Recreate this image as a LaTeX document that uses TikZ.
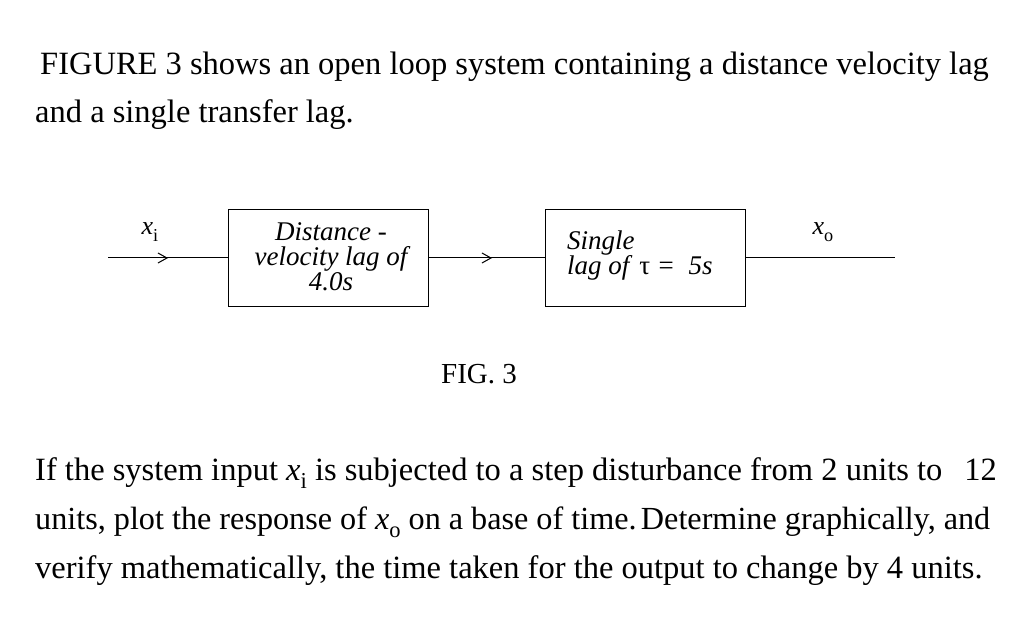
\documentclass[tikz,border=0pt]{standalone}
\usepackage{fontspec}
\setmainfont{Liberation Serif}
\usetikzlibrary{arrows.meta}
\newcommand{\sbs}[1]{\raisebox{-0.25em}{\scalebox{0.7}{#1}}}
\begin{document}
\begin{tikzpicture}[x=1pt,y=-1pt,
  txt/.style={anchor=base west,inner sep=0pt,font=\fontsize{32.5}{36}\selectfont},
  blk/.style={draw,line width=1pt,minimum width=200pt,minimum height=97pt,inner sep=0pt},
  btxt/.style={inner sep=0pt,font=\fontsize{27}{25}\selectfont\itshape,align=center},
  sig/.style={line width=1pt},
  tip/.style={line width=1pt,-{Straight Barb[length=9pt,width=10pt]}}]
\useasboundingbox (0,0) rectangle (1036,620);
\node[txt] (l1) at (40,75) {FIGURE 3 shows an open loop system containing a distance velocity lag};
\node[txt] (l2) at (35,123) {and a single transfer lag.};
\node[blk] (b1) at (328,258) {};
\node[btxt] (t1) at (331,257) {Distance -\\velocity lag of\\4.0s};
\node[blk] (b2) at (645,258) {};
\node[btxt,align=left,anchor=west] (t2) at (567,256) {Single\\lag of \textup{τ} = \ 5s};
\coordinate (in) at (108,258);
\coordinate (ina) at (168,258);
\coordinate (mida) at (492,258);
\coordinate (out) at (895,258);
\draw[sig] (in) -- (b1.west);
\draw[tip] (in) -- (ina);
\draw[sig] (b1.east) -- (b2.west);
\draw[tip] (b1.east) -- (mida);
\draw[sig] (b2.east) -- (out);
\node[font=\fontsize{26}{26}\selectfont,inner sep=0pt] (xi) at (150,232) {\textit{x}\sbs{i}};
\node[font=\fontsize{26}{26}\selectfont,inner sep=0pt] (xo) at (823,232) {\textit{x}\sbs{o}};
\node[txt,font=\fontsize{29}{32}\selectfont] (fig) at (441,383) {FIG. 3};
\node[txt] (p1) at (35,480) {If the system input \textit{x}\sbs{i} is subjected to a step disturbance from 2 units to};
\node[txt,anchor=base east] (p1b) at (997,480) {12};
\node[txt,font=\fontsize{32.2}{36}\selectfont] (p2) at (35,529) {units, plot the response of \textit{x}\sbs{o} on a base of time.\hspace{-0.2em} Determine graphically, and};
\node[txt] (p3) at (35,578) {verify mathematically, the time taken for the output to change by 4 units.};
\end{tikzpicture}
\end{document}
